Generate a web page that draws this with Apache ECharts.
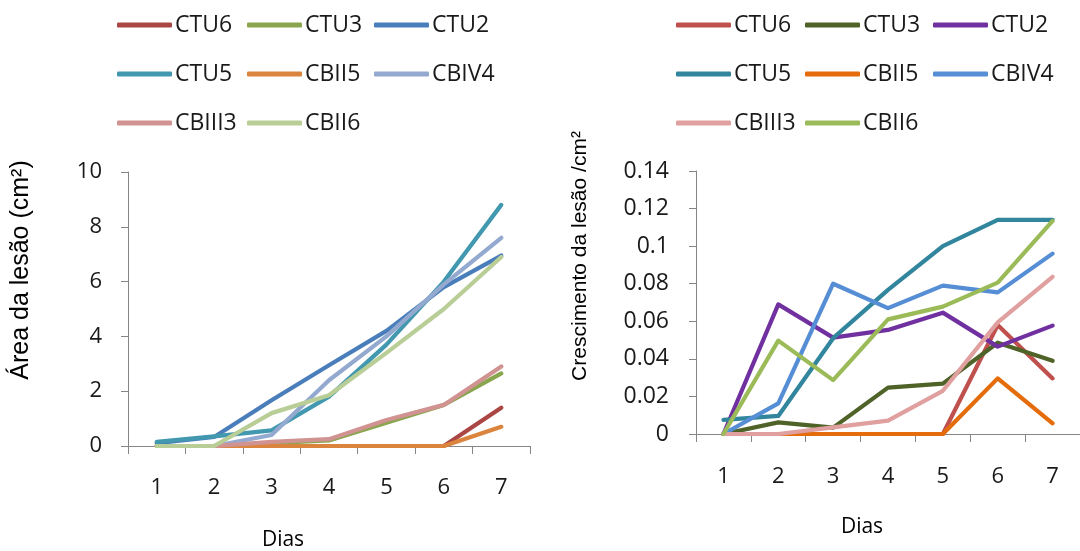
<!DOCTYPE html>
<html>
<head>
<meta charset="utf-8">
<script src="https://cdn.jsdelivr.net/npm/echarts@6/dist/echarts.min.js"></script>
<style>
  html, body { margin: 0; padding: 0; background: #fff; }
  .wrap { width: 1080px; height: 551px; display: flex; }
  .chart { width: 540px; height: 551px; }
</style>
</head>
<body>
<div class="wrap">
  <div id="chartLeft" class="chart"></div>
  <div id="chartRight" class="chart"></div>
</div>
<script>
// dias de avaliação
const days = ['1', '2', '3', '4', '5', '6', '7'];
const seriesNames = ['CTU6', 'CTU3', 'CTU2', 'CTU5', 'CBII5', 'CBIV4', 'CBIII3', 'CBII6'];
// colunas da legenda (3 colunas, como no Excel)
const legendCols = [['CTU6', 'CTU5', 'CBIII3'], ['CTU3', 'CBII5', 'CBII6'], ['CTU2', 'CBIV4']];

// Área da lesão (cm2)
const areaCTU6 = [0, 0, 0, 0, 0, 0, 1.4];
const areaCTU3 = [0, 0, 0.1, 0.2, 0.85, 1.5, 2.65];
const areaCTU2 = [0.1, 0.33, 1.67, 2.95, 4.2, 5.8, 6.95];
const areaCTU5 = [0.15, 0.35, 0.57, 1.8, 3.7, 6.0, 8.8];
const areaCBII5 = [0, 0, 0, 0, 0, 0, 0.7];
const areaCBIV4 = [0, 0, 0.4, 2.4, 4.0, 5.9, 7.6];
const areaCBIII3 = [0, 0, 0.15, 0.25, 0.95, 1.5, 2.9];
const areaCBII6 = [0, 0, 1.2, 1.85, 3.4, 5.0, 6.9];

// Crescimento da lesão /cm2
const growCTU6 = [0, 0, 0, 0, 0, 0.058, 0.0296];
const growCTU3 = [0, 0.0062, 0.0034, 0.0247, 0.0268, 0.0486, 0.039];
const growCTU2 = [0, 0.069, 0.0513, 0.0554, 0.0646, 0.0465, 0.0577];
const growCTU5 = [0.0075, 0.0096, 0.051, 0.0767, 0.1, 0.114, 0.114];
const growCBII5 = [0, 0, 0, 0, 0, 0.0296, 0.0057];
const growCBIV4 = [0, 0.0163, 0.08, 0.067, 0.079, 0.0754, 0.096];
const growCBIII3 = [0, 0, 0.0035, 0.0071, 0.023, 0.0594, 0.0837];
const growCBII6 = [0, 0.0497, 0.0287, 0.061, 0.0678, 0.0806, 0.1134];

const areaData = [areaCTU6, areaCTU3, areaCTU2, areaCTU5, areaCBII5, areaCBIV4, areaCBIII3, areaCBII6];
const growData = [growCTU6, growCTU3, growCTU2, growCTU5, growCBII5, growCBIV4, growCBIII3, growCBII6];

const areaColors = ['#AA4643', '#89A54E', '#4A7EBB', '#4198AF', '#DB843D', '#93A9CF', '#D19392', '#B9CD96'];
const growColors = ['#C0504D', '#4F6228', '#7030A0', '#31859C', '#E46C0A', '#558ED5', '#E0A09F', '#9BBB59'];

const tickFont = '"Open Sans", "Noto Sans", sans-serif';
const axisGray = '#868686';

const buildLegends = (lefts) => legendCols.map((col, i) => ({
  orient: 'vertical',
  left: lefts[i],
  top: 13,
  padding: 0,
  itemGap: 25,
  itemWidth: 55,
  itemHeight: 5,
  icon: 'roundRect',
  selectedMode: false,
  data: col,
  textStyle: { fontFamily: tickFont, fontSize: 23, color: '#1a1a1a', lineHeight: 24, padding: [0, 0, 0, -2] }
}));

const buildSeries = (dataList, colors) => seriesNames.map((name, i) => ({
  name: name,
  type: 'line',
  data: dataList[i],
  symbol: 'none',
  smooth: false,
  animation: false,
  color: colors[i],
  lineStyle: { width: 4.2, color: colors[i], cap: 'round', join: 'round' }
}));

const buildOption = (cfg) => ({
  backgroundColor: '#fff',
  animation: false,
  legend: buildLegends(cfg.legendLefts),
  grid: cfg.grid,
  xAxis: {
    type: 'category',
    data: days,
    boundaryGap: true,
    axisLine: { lineStyle: { color: axisGray, width: 1 } },
    axisTick: { show: true, length: 8, lineStyle: { color: axisGray } },
    axisLabel: { fontFamily: tickFont, fontSize: 22, color: '#1a1a1a', margin: cfg.xLabelMargin }
  },
  yAxis: {
    type: 'value',
    min: 0,
    max: cfg.yMax,
    interval: cfg.yInterval,
    splitLine: { show: false },
    axisLine: { show: true, lineStyle: { color: axisGray, width: 1 } },
    axisTick: { show: true, length: 7, lineStyle: { color: axisGray } },
    axisLabel: { fontFamily: tickFont, fontSize: cfg.yFontSize, color: '#1a1a1a', margin: cfg.yLabelMargin }
  },
  graphic: [
    {
      type: 'text',
      x: cfg.yTitlePos[0],
      y: cfg.yTitlePos[1],
      rotation: Math.PI / 2,
      style: {
        text: cfg.yTitle,
        fontSize: cfg.yTitleSize,
        fontFamily: '"Liberation Sans", Arial, sans-serif',
        fill: '#000',
        align: 'center',
        verticalAlign: 'middle'
      }
    },
    {
      type: 'text',
      x: cfg.xTitlePos[0],
      y: cfg.xTitlePos[1],
      style: {
        text: 'Dias',
        fontSize: 21,
        fontFamily: tickFont,
        fill: '#000',
        align: 'center',
        verticalAlign: 'middle'
      }
    }
  ],
  series: buildSeries(cfg.data, cfg.colors)
});

const leftChart = echarts.init(document.getElementById('chartLeft'));
leftChart.setOption(buildOption({
  legendLefts: [117, 247, 374],
  grid: { left: 128, top: 172, bottom: 105, right: 10, containLabel: false },
  xLabelMargin: 31,
  yMax: 10,
  yInterval: 2,
  yFontSize: 22,
  yLabelMargin: 26,
  yTitle: 'Área da lesão (cm²)',
  yTitleSize: 25,
  yTitlePos: [21, 270],
  xTitlePos: [283, 540],
  data: areaData,
  colors: areaColors
}));

const rightChart = echarts.init(document.getElementById('chartRight'));
rightChart.setOption(buildOption({
  legendLefts: [136, 265, 393],
  grid: { left: 156, top: 171, bottom: 117, right: -21, containLabel: false },
  xLabelMargin: 32,
  yMax: 0.14,
  yInterval: 0.02,
  yFontSize: 23,
  yLabelMargin: 27,
  yTitle: 'Crescimento da lesão /cm²',
  yTitleSize: 21,
  yTitlePos: [40, 256],
  xTitlePos: [322, 527],
  data: growData,
  colors: growColors
}));
</script>
</body>
</html>
